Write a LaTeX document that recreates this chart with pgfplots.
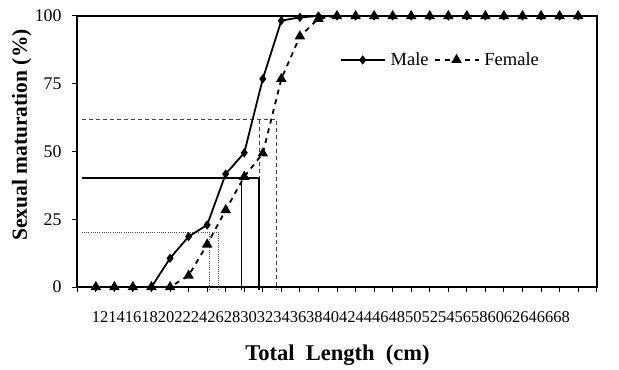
\documentclass[border=0pt]{standalone}
\usepackage{pgfplots}
\pgfplotsset{compat=1.18}
\usepackage{fontspec}
\setmainfont{Liberation Serif}
\begin{document}
\begin{tikzpicture}
\path[use as bounding box] (-77.3bp,-83bp) rectangle (541.7bp,287bp);
\begin{axis}[
  at={(0,0)}, anchor=origin,
  scale only axis, width=519.4bp, height=271bp,
  xmin=0, xmax=28, ymin=0, ymax=100,
  clip=false,
  axis line style={line width=1.6bp},
  ytick={0,25,50,75,100},
  xtick={1.237,2.125,3.014,3.902,4.791,5.679,6.567,7.456,8.344,9.233,10.121,11.009,11.898,12.786,13.675,14.563,15.451,16.340,17.228,18.117,19.005,19.893,20.782,21.670,22.559,23.447,24.335,25.224,26.112},
  xticklabels={12,14,16,18,20,22,24,26,28,30,32,34,36,38,40,42,44,46,48,50,52,54,56,58,60,62,64,66,68},
  minor xtick={0,1,...,28},
  tick align=outside,
  major x tick style={draw=none},
  minor tick length=5bp, major tick length=5bp,
  tick style={line width=1bp, black},
  xtick pos=bottom, ytick pos=left,
  /pgf/number format/assume math mode=true,
  xticklabel style={anchor=north, inner sep=0pt, yshift=-24.7bp+5bp, font=\fontsize{16.5bp}{19bp}\selectfont},
  yticklabel style={anchor=east, inner sep=0pt, xshift=-15.6bp+5bp, font=\fontsize{17.8bp}{20bp}\selectfont},
  ylabel={\textbf{Sexual maturation (\%)}},
  ylabel style={at={(axis description cs:-0.107,0.561)}, anchor=center, rotate=0, font=\fontsize{21.5bp}{25bp}\selectfont},
  xlabel={\textbf{Total\ \ Length\ \ (cm)}},
  xlabel style={at={(axis description cs:0.501,-0.251)}, anchor=center, font=\fontsize{22.5bp}{26bp}\selectfont},
  legend columns=2,
  legend style={draw=none, fill=none, at={(axis description cs:0.699,0.838)}, anchor=center,
    font=\fontsize{18.5bp}{21bp}\selectfont, column sep=3bp, inner sep=0pt},
  legend image code/.code={\draw[mark repeat=2,mark phase=2] plot coordinates {(0bp,0bp) (22bp,0bp) (44bp,0bp)};},
]
% reference lines
\addplot[forget plot, black, line width=1.5bp] coordinates {(0.24,40.3) (9.8,40.3) (9.8,-1.1)};
\addplot[forget plot, black, line width=1.5bp] coordinates {(8.85,40.3) (8.85,-1.1)};
\addplot[forget plot, black!75, line width=0.9bp, dash pattern=on 4bp off 3bp] coordinates {(0.24,61.8) (10.75,61.8) (10.75,-1.1)};
\addplot[forget plot, black!75, line width=0.9bp, dash pattern=on 4bp off 3bp] coordinates {(9.8,61.8) (9.8,40.3)};
\addplot[forget plot, black!70, line width=0.8bp, dash pattern=on 1bp off 1.2bp] coordinates {(0.24,20.3) (7.61,20.3) (7.61,-1.1)};
\addplot[forget plot, black!70, line width=0.8bp, dash pattern=on 1bp off 1.2bp] coordinates {(7.11,20.3) (7.11,-1.1)};
% Male
\addplot[black, line width=1.8bp, mark=diamond*, mark size=3.2bp, mark options={solid}] coordinates {
(1,0) (2,0) (3,0) (4,0) (5,10.6) (6,18.6) (7,22.9) (8,41.7) (9,49.5) (10,76.8) (11,98.3) (12,99.5)
(13,100) (14,100) (15,100) (16,100) (17,100) (18,100) (19,100) (20,100) (21,100) (22,100) (23,100) (24,100) (25,100) (26,100) (27,100)};
\addlegendentry{Male}
% Female
\addplot[black, line width=1.8bp, dash pattern=on 5bp off 5bp, mark=triangle*, mark size=4.3bp, mark options={solid}] coordinates {
(1,0) (2,0) (3,0) (4,0) (5,0) (6,4.2) (7,15.7) (8,28.4) (9,40.7) (10,49.3) (11,76.8) (12,92.5) (13,99)
(14,100) (15,100) (16,100) (17,100) (18,100) (19,100) (20,100) (21,100) (22,100) (23,100) (24,100) (25,100) (26,100) (27,100)};
\addlegendentry{Female}
\end{axis}
\end{tikzpicture}
\end{document}
